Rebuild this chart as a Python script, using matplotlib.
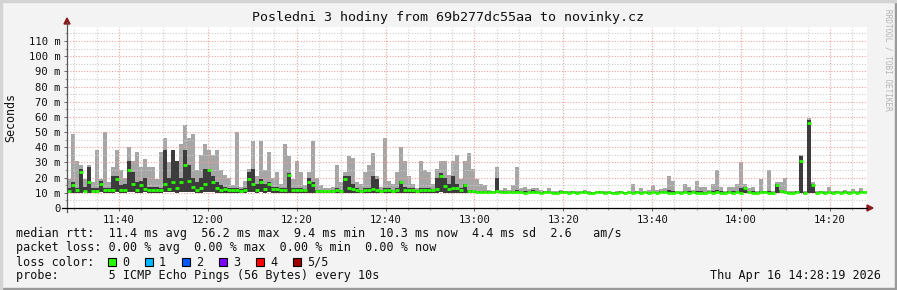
import numpy as np
import matplotlib
matplotlib.use("Agg")
import matplotlib.pyplot as plt
from matplotlib.patches import Rectangle, Polygon
from matplotlib.lines import Line2D
from matplotlib.ticker import MultipleLocator, FixedLocator

# ---------------- data ----------------
title = "Posledni 3 hodiny from 69b277dc55aa to novinky.cz"
t_start = 11 * 60 + 28 + 19 / 60.0   # minutes since midnight (11:28:19)
t_step = 0.9                          # minutes per sample

med = [11.4, 15, 11.8, 24, 11.5, 17, 11.4, 11.4, 16, 11.8, 11.6, 12, 19, 12.0, 11.8, 25, 16, 12, 15, 12.5,
       11.8, 11.6, 11.8, 11.6, 16, 12.5, 17, 13, 17, 28, 18, 14, 12, 13, 16, 25, 17, 13, 12, 12.5,
       11.6, 11.8, 11.6, 11.5, 11.8, 19, 16, 12, 17, 12.5,
       16, 12.5, 12.5, 11.8, 11.8, 22, 11.8, 11.6, 11.8, 11.6, 17, 15, 11, 11, 11, 11, 11, 11.8, 11, 19,
       13.5, 12.5, 11.8, 11, 11.8, 11.6, 12.5, 11.8, 11, 11.6, 11.8, 11, 11.6, 17, 11.8, 11.6, 11.8, 11, 11.6, 11.6,
       11.8, 11.6, 12.5, 21, 14.5, 12.5, 13.5, 13.5, 11.8, 15,
       11.2, 11, 10.8, 10.6, 10.5, 10.4, 10.5, 11, 10.4, 10.6, 10.3, 10.8, 10.6, 10.4, 10.2, 10.5, 10.6, 10.3, 10.1, 10.4,
       10.6, 10.2, 10.0, 10.4, 10.6, 10.2, 10.6, 10.0, 10.4, 10.8, 10.2, 9.9, 10.3, 10.6, 10.1, 10.4, 9.9, 10.2, 10.5, 10.0,
       10.3, 10.2, 10.5, 10.1, 10.3, 10.0, 10.4, 10.2, 10.5, 10.6,
       10.2, 10.0, 10.3, 10.0, 10.4, 10.1, 10.3, 10.0, 10.2, 9.9, 10.3, 10.2, 10.5, 10.1, 10.0, 10.3, 10.0, 10.4, 10.2, 13,
       10.5, 10.2, 10.0, 10.3, 10.5, 10.2, 10.0, 15, 11, 10.3, 10.0, 10.2, 10.4, 31, 10.0, 56, 15, 10.2, 10.4, 10.1,
       10.3, 10.0, 10.4, 10.2, 10.5, 10.1, 10.3, 10.2, 10.4, 10.3]

dark_top = [13, 17, 13, 26, 14, 27, 13, 13, 18, 13, 13, 21, 21, 15, 16, 31, 24, 17, 18, 20,
            14, 14, 14, 13, 38, 20, 38, 31, 20, 38, 28, 20, 17, 20, 26, 26, 21, 17, 15, 14,
            13, 13, 13, 12.5, 13, 24, 26, 16, 19, 16,
            17, 14, 14, 13, 13, 23, 13, 13, 13, 12.5, 20, 17, 12, 12, 11.5, 11.5, 12, 13, 12, 21,
            21, 16, 13, 12, 13, 13, 21, 19, 12, 13, 13, 12, 13, 18, 14, 13, 13, 12, 13, 13,
            13, 12.5, 20, 23, 20, 16, 21, 16, 13, 16,
            12, 12, 11.5, 11.5, 11, 11, 11, 20, 11, 11, 10.8, 11.5, 12, 11, 11, 11, 12, 11, 10.8, 11,
            11, 10.8, 10.6, 11, 11, 10.6, 11, 10.5, 10.8, 11.2, 10.6, 10.3, 10.7, 11, 10.5, 10.8, 10.3, 10.6, 10.9, 10.4,
            10.7, 10.6, 10.9, 10.5, 10.7, 10.4, 10.8, 10.6, 10.9, 11,
            12, 11, 10.8, 10.5, 11, 11, 11, 11, 11, 10.5, 11, 11, 12, 11, 10.5, 11, 11, 11, 13, 14,
            11, 11, 10.5, 11, 11, 11, 10.5, 16, 12, 11, 10.5, 10.5, 11, 34, 10.5, 58, 16, 10.5, 11, 10.6,
            10.8, 10.5, 10.9, 10.7, 11, 10.6, 10.8, 10.7, 10.9, 10.8]

hi = [19, 49, 31, 28, 19, 28, 17, 38, 19, 50, 17, 27, 38, 25, 20, 40, 31, 37, 27, 32,
      27, 27, 19, 37, 46, 30, 38, 31, 42, 55, 46, 49, 25, 35, 42, 38, 35, 38, 25, 22,
      20, 15, 50, 14, 18, 26, 44, 21, 44, 25,
      37, 20, 24, 16, 42, 34, 19, 31, 24, 15, 24, 44, 20, 15, 13, 13, 14, 28, 17, 24,
      34, 33, 17, 16, 24, 28, 36, 21, 14, 46, 18, 16, 24, 40, 31, 21, 16, 13, 31, 25,
      24, 16, 26, 31, 31, 22, 31, 35, 19, 31,
      36, 26, 19, 16, 15, 12, 11.5, 27, 12, 13, 12, 15, 27, 13, 14, 12.5, 13, 13, 12, 11.5,
      13, 11.5, 11, 12, 11.5, 11, 11.5, 11, 11.2, 12, 11, 10.8, 11.2, 11.4, 10.9, 11.2, 10.8, 11, 11.3, 10.8,
      11.1, 16, 11.5, 13, 11.5, 12, 15, 12, 12.5, 13,
      21, 18, 11, 11, 16, 14, 12, 18, 14, 14, 12, 16, 25, 14, 11, 14, 14, 16, 30, 16,
      13, 14, 11, 19, 11.5, 25, 11, 17, 17, 20, 11, 11, 11.5, 35, 11, 59, 17, 11, 11.5, 11,
      14, 11, 11.5, 11, 12, 11, 12.5, 11, 13, 11.5]

lo = [10, 10.2, 10.1, 10, 10.3, 10.1, 10, 10.2, 10.4, 10.1, 10, 10.2, 10.5, 10.1, 10.2, 10.4, 10.3, 10.1, 10.2, 10.3,
      10, 10.1, 10.2, 10, 10.4, 10.3, 10.5, 10.2, 10.4, 10.6, 10.5, 10.3, 10.2, 10.1, 10.4, 10.5, 10.3, 10.2, 10.1, 10,
      10.1, 10, 10.1, 10, 10.1, 10.3, 10.4, 10.2, 10.3, 10.1,
      10.3, 10.1, 10, 10.1, 10, 10.2, 10, 10.1, 10, 9.9, 10.2, 10.1, 9.9, 9.8, 9.9, 9.8, 9.9, 10, 9.8, 10.2,
      10.1, 10, 9.9, 9.8, 10, 9.9, 10.1, 10, 9.8, 10, 9.9, 9.8, 10, 10.2, 10, 9.9, 10, 9.8, 9.9, 10,
      10, 9.9, 10.1, 10.3, 10.2, 10, 10.1, 10.1, 9.9, 10.1,
      9.9, 9.8, 9.8, 9.7, 9.8, 9.7, 9.8, 9.9, 9.7, 9.8, 9.7, 9.8, 9.9, 9.7, 9.6, 9.8, 9.8, 9.7, 9.6, 9.7,
      9.8, 9.6, 9.5, 9.7, 9.8, 9.6, 9.8, 9.5, 9.7, 9.9, 9.6, 9.4, 9.6, 9.8, 9.5, 9.7, 9.4, 9.6, 9.8, 9.5,
      9.6, 9.6, 9.8, 9.5, 9.7, 9.5, 9.7, 9.6, 9.8, 9.8,
      9.7, 9.6, 9.7, 9.5, 9.8, 9.6, 9.7, 9.5, 9.6, 9.4, 9.7, 9.6, 9.8, 9.6, 9.5, 9.7, 9.5, 9.8, 9.6, 9.9,
      9.8, 9.6, 9.5, 9.7, 9.8, 9.6, 9.5, 9.9, 9.8, 9.7, 9.5, 9.6, 9.8, 9.9, 9.5, 9.9, 9.8, 9.6, 9.8, 9.5,
      9.7, 9.5, 9.8, 9.6, 9.8, 9.5, 9.7, 9.6, 9.8, 9.7]

y_ticks = [0, 10, 20, 30, 40, 50, 60, 70, 80, 90, 100, 110]
x_tick_labels = ["11:40", "12:00", "12:20", "12:40", "13:00", "13:20", "13:40", "14:00", "14:20"]

legend_rtt = "median rtt:  11.4 ms avg  56.2 ms max  9.4 ms min  10.3 ms now  4.4 ms sd  2.6   am/s"
legend_loss = "packet loss: 0.00 % avg  0.00 % max  0.00 % min  0.00 % now"
loss_labels = ["0", "1", "2", "3", "4", "5/5"]
loss_colors = ["#26ff00", "#00b8ff", "#0059ff", "#7e00ff", "#ff0000", "#a10000"]
probe_text = "probe:       5 ICMP Echo Pings (56 Bytes) every 10s"
date_text = "Thu Apr 16 14:28:19 2026"
watermark = "RRDTOOL / TOBI OETIKER"

# ---------------- figure ----------------
W, H, DPI = 897, 290, 100
MONO = "DejaVu Sans Mono"
plt.rcParams["font.family"] = [MONO]

fig = plt.figure(figsize=(W / DPI, H / DPI), dpi=DPI, facecolor="#f3f3f3")


def fx(x):
    return x / W


def fy(y):
    return 1 - y / H


px_per_ms = 15.18 / 10.0
ax_left, ax_right, ax_top, ax_bot = 67, 867, 27, 208
ax = fig.add_axes([fx(ax_left), fy(ax_bot), (ax_right - ax_left) / W, (ax_bot - ax_top) / H])
ax.set_facecolor("white")
ax.set_xlim(t_start, t_start + 180)
ax.set_ylim(0, (ax_bot - ax_top) / px_per_ms)

med_a = np.array(med)
dark_a = np.array(dark_top)
hi_a = np.array(hi)
lo_a = np.array(lo)
times = t_start + t_step * np.arange(len(med_a))

ax.bar(times, hi_a - lo_a, bottom=lo_a, width=t_step, align="edge",
       color="#a6a6a6", linewidth=0, zorder=2)
ax.bar(times, dark_a - lo_a, bottom=lo_a, width=t_step, align="edge",
       color="#3c3c3c", linewidth=0, zorder=3)
ax.hlines(med_a, times, times + t_step, color=loss_colors[0], linewidth=2.0, zorder=4)

# grid
ax.yaxis.set_major_locator(FixedLocator(y_ticks))
ax.yaxis.set_minor_locator(MultipleLocator(5))
x_major = [700 + 20 * k for k in range(len(x_tick_labels))]
ax.xaxis.set_major_locator(FixedLocator(x_major))
ax.xaxis.set_minor_locator(MultipleLocator(5))
ax.set_xticklabels(x_tick_labels)
ax.set_yticklabels(["0" if v == 0 else f"{v} m" for v in y_ticks])
ax.set_axisbelow(False)
ax.grid(which="major", color="#f0a0a0", linestyle=(0, (1, 1.5)), linewidth=0.8)
ax.grid(which="minor", color="#cdcdcd", linestyle=(0, (1, 1.5)), linewidth=0.8)
ax.tick_params(which="major", length=2.2, width=0.7, color="#666666", pad=2.5,
               labelsize=7.6, labelcolor="#111111")
ax.tick_params(which="minor", length=1.5, width=0.7, color="#999999")
for s in ax.spines.values():
    s.set_visible(False)

# axis lines & arrows
fig.add_artist(Line2D([fx(67), fx(67)], [fy(212), fy(22)], color="#555555", lw=0.9))
fig.add_artist(Line2D([fx(62), fx(867)], [fy(208), fy(208)], color="#000000", lw=0.9))
fig.add_artist(Polygon([[fx(64), fy(24)], [fx(70), fy(24)], [fx(67), fy(18)]],
                       closed=True, color="#8b1a1a", transform=fig.transFigure))
fig.add_artist(Polygon([[fx(867), fy(205)], [fx(867), fy(211)], [fx(873), fy(208)]],
                       closed=True, color="#8b1a1a", transform=fig.transFigure))

# texts
fig.text(fx(448), fy(18), title, ha="center", va="center", fontsize=9.6, color="#111111")
fig.text(fx(11), fy(117), "Seconds", ha="center", va="center", rotation=90, fontsize=8.4, color="#111111")
fig.text(fx(888), fy(60), watermark, ha="center", va="center", rotation=270, fontsize=5.6, color="#b4b4b4")

LS = 8.5
fig.text(fx(16), fy(234), legend_rtt, ha="left", va="center", fontsize=LS, color="#111111")
fig.text(fx(16), fy(248), legend_loss, ha="left", va="center", fontsize=LS, color="#111111")
fig.text(fx(16), fy(262), "loss color:", ha="left", va="center", fontsize=LS, color="#111111")
for k, (lab, col) in enumerate(zip(loss_labels, loss_colors)):
    x0 = 108 + 37 * k
    fig.add_artist(Rectangle((fx(x0), fy(266)), 8 / W, 8 / H, facecolor=col,
                             edgecolor="black", lw=0.8, transform=fig.transFigure))
    fig.text(fx(x0 + 14), fy(262), lab, ha="left", va="center", fontsize=LS, color="#111111")
fig.text(fx(16), fy(276), probe_text, ha="left", va="center", fontsize=LS, color="#111111")
fig.text(fx(881), fy(276), date_text, ha="right", va="center", fontsize=LS, color="#111111")

# frame
fig.add_artist(Rectangle((0, 0), 1, 2 / H, color="#9a9a9a", transform=fig.transFigure))
fig.add_artist(Rectangle((1 - 2 / W, 0), 2 / W, 1, color="#9a9a9a", transform=fig.transFigure))
fig.add_artist(Rectangle((0, 1 - 2 / H), 1, 2 / H, color="#d4d4d4", transform=fig.transFigure))
fig.add_artist(Rectangle((0, 0), 2 / W, 1, color="#d4d4d4", transform=fig.transFigure))

fig.savefig("out.png", dpi=DPI, facecolor=fig.get_facecolor())
